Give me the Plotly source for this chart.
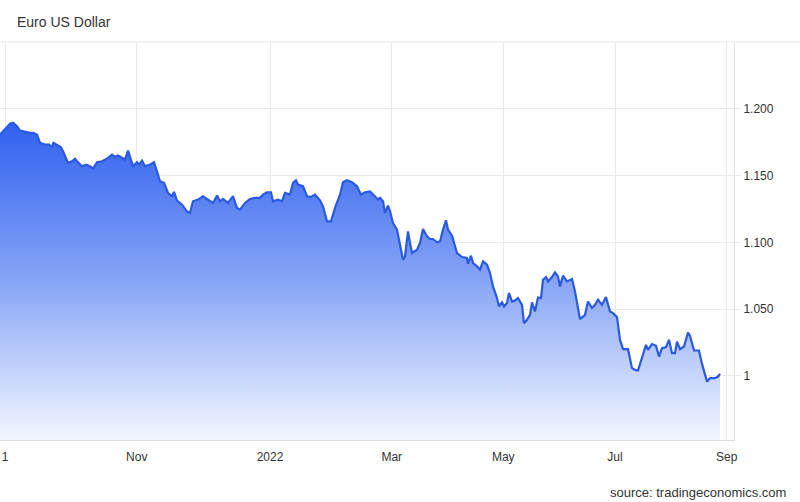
import plotly.graph_objects as go

# Ordinal trading-session position (0 = 1 Sep 2021) and EUR/USD close
session = [-2, 0, 2, 3.2, 4.8, 6, 8, 10, 11.2, 12.8, 14, 16, 17.6, 18.8, 19.4, 20.8, 22.4, 23.2,
           25.2, 26.8, 28, 28.8, 30.8, 32.4, 34, 35.2, 36.8, 38.8, 40.8, 42.8, 44, 45.2, 46.8,
           48, 49.2, 50.4, 51.2, 52.8, 53.6, 54.8, 56, 58, 59.6, 60.8, 62, 63.6, 65.2, 66.8,
           67.6, 68.8, 70.8, 72.8, 74, 75.2, 77.2, 79.2, 81.2, 83.2, 84.8, 86, 87.2, 89.2,
           91.2, 92.8, 94, 96, 98, 100, 102, 103.2, 104.8, 106.4, 107.2, 109.2, 110.8, 112,
           114, 115.2, 116.4, 117.2, 119.2, 120.8, 122.4, 124, 126, 127.2, 128.8, 130.4, 132,
           134, 135.2, 136.8, 138.8, 140.8, 142.4, 144, 146, 148, 149.2, 150, 151.2, 152,
           153.2, 154, 155.2, 156.8, 158, 159.2, 160, 161.2, 162, 162.8, 164.8, 166, 167.2,
           168.8, 170, 171.2, 172.8, 174, 175.2, 176.4, 177.2, 178.8, 180.8, 182.8, 184.8,
           185.2, 186.4, 187.2, 188.8, 190, 191.2, 192.8, 194, 195.2, 196.8, 197.6, 198.8,
           199.6, 200.8, 201.6, 202.8, 204, 205.2, 206.8, 207.6, 208.8, 210, 210.8, 212,
           213.2, 214.4, 215.2, 216.4, 217.2, 218.8, 220, 221.2, 222, 223.2, 224.8, 226.8,
           228, 230, 232, 233.2, 234.8, 236, 237.2, 238.8, 240.4, 242, 243.2, 244.8, 246,
           247.2, 249.2, 250.8, 252, 253.2, 254.8, 256.4, 257.2, 258.8, 260.4, 261.6, 262.8,
           264.4, 265.6, 266.8, 268, 268.8, 270, 271.6, 273.2, 274, 275.6, 277.6, 278.8,
           280.8, 282, 284, 285.2, 286]

eurusd = [1.1807, 1.1845, 1.1888, 1.1895, 1.1870, 1.1837, 1.1828, 1.1820, 1.1820, 1.1807,
          1.1745, 1.1732, 1.1732, 1.1715, 1.1745, 1.1732, 1.1712, 1.1682, 1.1595, 1.1607,
          1.1625, 1.1607, 1.1570, 1.1582, 1.1570, 1.1552, 1.1600, 1.1607, 1.1627, 1.1657,
          1.1640, 1.1650, 1.1633, 1.1620, 1.1687, 1.1607, 1.1570, 1.1600, 1.1582, 1.1612,
          1.1570, 1.1582, 1.1600, 1.1532, 1.1457, 1.1445, 1.1370, 1.1345, 1.1378, 1.1312,
          1.1282, 1.1232, 1.1220, 1.1307, 1.1320, 1.1345, 1.1320, 1.1295, 1.1350, 1.1307,
          1.1325, 1.1295, 1.1345, 1.1258, 1.1245, 1.1295, 1.1325, 1.1333, 1.1333, 1.1357,
          1.1375, 1.1375, 1.1307, 1.1320, 1.1307, 1.1370, 1.1357, 1.1445, 1.1465, 1.1432,
          1.1420, 1.1345, 1.1340, 1.1357, 1.1315, 1.1270, 1.1157, 1.1157, 1.1258, 1.1357,
          1.1450, 1.1465, 1.1450, 1.1420, 1.1357, 1.1375, 1.1382, 1.1345, 1.1320, 1.1333,
          1.1307, 1.1220, 1.1275, 1.1232, 1.1145, 1.1095, 1.0970, 1.0870, 1.0895, 1.1082,
          1.0995, 1.0920, 1.0945, 1.0995, 1.1100, 1.1045, 1.1025, 1.1025, 1.1000, 1.1007,
          1.1095, 1.1165, 1.1095, 1.1050, 1.0920, 1.0890, 1.0883, 1.0840, 1.0900, 1.0845,
          1.0820, 1.0795, 1.0857, 1.0832, 1.0770, 1.0670, 1.0583, 1.0520, 1.0550, 1.0520,
          1.0545, 1.0620, 1.0557, 1.0565, 1.0583, 1.0532, 1.0395, 1.0420, 1.0457, 1.0550,
          1.0482, 1.0587, 1.0583, 1.0720, 1.0740, 1.0707, 1.0740, 1.0775, 1.0745, 1.0670,
          1.0750, 1.0707, 1.0725, 1.0632, 1.0425, 1.0457, 1.0557, 1.0508, 1.0532, 1.0570,
          1.0532, 1.0590, 1.0482, 1.0470, 1.0440, 1.0270, 1.0200, 1.0200, 1.0058, 1.0045,
          1.0040, 1.0133, 1.0232, 1.0195, 1.0238, 1.0225, 1.0145, 1.0208, 1.0215, 1.0270,
          1.0170, 1.0170, 1.0257, 1.0200, 1.0220, 1.0325, 1.0300, 1.0190, 1.0190, 1.0090,
          0.9957, 0.9983, 0.9983, 0.9995, 1.0015]

x_tick_pos = [0, 52.7, 106, 154.7, 199.3, 244, 288.7]
x_tick_text = ["1", "Nov", "2022", "Mar", "May", "Jul", "Sep"]
y_tick_vals = [1.0, 1.05, 1.10, 1.15, 1.20]
y_tick_text = ["1", "1.050", "1.100", "1.150", "1.200"]

FONT = "Liberation Sans, Arial, sans-serif"
GRID = "#e9e9e9"

fig = go.Figure()
fig.add_trace(go.Scatter(
    x=session, y=eurusd, mode="lines",
    line=dict(color="#2a5ade", width=2.2),
    fill="tozeroy",
    fillgradient=dict(type="vertical",
                      colorscale=[[0, "rgb(242,246,254)"], [0.5, "rgb(135,165,246)"],
                                  [1, "rgb(48,96,240)"]],
                      start=0.952, stop=1.19),
    hoverinfo="skip",
))

fig.update_layout(
    width=800, height=502,
    margin=dict(l=0, r=66, t=42, b=62),
    paper_bgcolor="white", plot_bgcolor="white",
    showlegend=False,
    font=dict(family=FONT, color="#333333", size=12),
    annotations=[
        dict(text="Euro US Dollar", xref="paper", yref="paper", x=15 / 734, y=1.05,
             xanchor="left", yanchor="middle", showarrow=False,
             font=dict(size=14, color="#333333", family=FONT)),
        dict(text="source: tradingeconomics.com", xref="paper", yref="paper",
             x=788 / 734, y=-0.133, xanchor="right", yanchor="middle", showarrow=False,
             font=dict(size=13, color="#333333", family=FONT)),
    ],
    shapes=[
        dict(type="line", xref="paper", yref="paper", x0=0, x1=800 / 734, y0=1, y1=1,
             line=dict(color=GRID, width=1)),
    ],
)

fig.update_xaxes(
    range=[-2, 291.6], tickmode="array", tickvals=x_tick_pos, ticktext=x_tick_text,
    showgrid=True, gridcolor=GRID, gridwidth=1, zeroline=False,
    showline=True, linecolor="#dddddd", linewidth=1,
    ticks="", ticklabelstandoff=6,
    tickfont=dict(size=12, color="#333333", family=FONT),
)
fig.update_yaxes(
    side="right", range=[0.952, 1.25], tickmode="array",
    tickvals=y_tick_vals, ticktext=y_tick_text,
    showgrid=True, gridcolor=GRID, gridwidth=1, zeroline=False,
    showline=True, linecolor="#e3e3e3", linewidth=1,
    ticks="outside", ticklen=6, tickcolor=GRID,
    tickfont=dict(size=12, color="#333333", family=FONT),
)

fig.write_html(
    "out.html",
    config={"displayModeBar": False},
    post_script="document.body.style.margin='0';document.body.style.overflow='hidden';",
)
